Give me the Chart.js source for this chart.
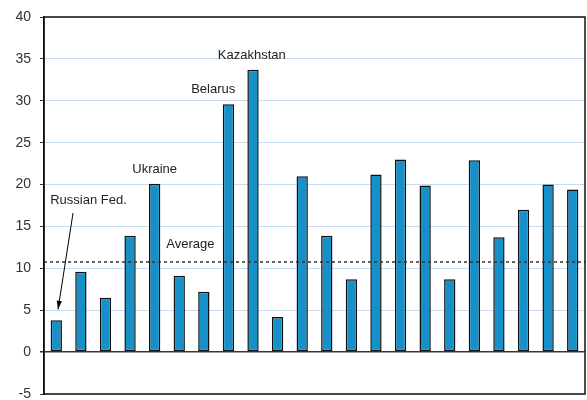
<!DOCTYPE html>
<html>
<head>
<meta charset="utf-8">
<script src="https://cdn.jsdelivr.net/npm/chart.js@4"></script>
<style>
  html, body { margin: 0; padding: 0; background: #fff; overflow: hidden; }
  canvas { display: block; }
</style>
</head>
<body>
<canvas id="myChart" width="587" height="400"></canvas>
<script>
// one bar per country, only a few are named on the chart
const countries = ['Russian Fed.', 'c2', 'c3', 'c4', 'Ukraine', 'c6', 'c7', 'Belarus', 'Kazakhstan', 'c10', 'c11',
    'c12', 'c13', 'c14', 'c15', 'c16', 'c17', 'c18', 'c19', 'c20', 'c21', 'c22'];
const values = [3.8, 9.6, 6.5, 13.9, 20.1, 9.1, 7.2, 29.6, 33.7, 4.2, 21.0,
    13.9, 8.7, 21.2, 23.0, 19.9, 8.7, 22.9, 13.7, 17.0, 20.0, 19.4];
const average = 10.75;
const yTicks = [-5, 0, 5, 10, 15, 20, 25, 30, 35, 40];

// text notes: [text, x (category index), y (value)]
const notes = [
    ['Russian Fed.', 1.31, 18.1],
    ['Ukraine', 4, 21.8],
    ['Belarus', 6.38, 31.3],
    ['Kazakhstan', 7.95, 35.4],
    ['Average', 5.45, 12.8]
];

const extras = {
    id: 'extras',
    afterDatasetsDraw(chart) {
        const c = chart.ctx;
        const a = chart.chartArea;
        const x = chart.scales.x;
        const y = chart.scales.y;
        c.save();
        // average line
        c.strokeStyle = '#333';
        c.lineWidth = 1.5;
        c.setLineDash([3, 3]);
        c.beginPath();
        c.moveTo(a.left, y.getPixelForValue(average));
        c.lineTo(a.right, y.getPixelForValue(average));
        c.stroke();
        c.setLineDash([]);
        // notes
        c.fillStyle = '#222';
        c.font = '13px "Liberation Sans", Arial, sans-serif';
        c.textAlign = 'center';
        c.textBaseline = 'middle';
        notes.forEach(n => c.fillText(n[0], x.getPixelForValue(n[1]), y.getPixelForValue(n[2])));
        // arrow to first bar
        const x1 = x.getPixelForValue(0.68), y1 = y.getPixelForValue(16.6);
        const x2 = x.getPixelForValue(0.07), y2 = y.getPixelForValue(5.1);
        c.strokeStyle = '#000';
        c.lineWidth = 1;
        c.beginPath();
        c.moveTo(x1, y1);
        c.lineTo(x2, y2);
        c.stroke();
        const ang = Math.atan2(y2 - y1, x2 - x1);
        c.fillStyle = '#000';
        c.beginPath();
        c.moveTo(x2, y2);
        c.lineTo(x2 - 9 * Math.cos(ang - 0.3), y2 - 9 * Math.sin(ang - 0.3));
        c.lineTo(x2 - 9 * Math.cos(ang + 0.3), y2 - 9 * Math.sin(ang + 0.3));
        c.closePath();
        c.fill();
        // frame
        c.strokeStyle = '#111';
        c.lineWidth = 1.5;
        c.strokeRect(a.left, a.top, a.right - a.left, a.bottom - a.top);
        c.restore();
    }
};

const ctx = document.getElementById('myChart').getContext('2d');
const myChart = new Chart(ctx, {
    type: 'bar',
    data: {
        labels: countries,
        datasets: [{
            data: values,
            backgroundColor: '#1590C8',
            borderColor: '#111',
            borderWidth: 1.5,
            borderSkipped: false,
            categoryPercentage: 1,
            barPercentage: 0.46
        }]
    },
    options: {
        responsive: false,
        animation: false,
        layout: { padding: { top: 17, right: 2, bottom: 6, left: 0 } },
        plugins: { legend: { display: false }, tooltip: { enabled: false } },
        scales: {
            x: { display: false },
            y: {
                min: -5,
                max: 40,
                afterFit(scale) {
                    scale.width = 44;
                    scale.paddingTop = 0;
                    scale.paddingBottom = 0;
                },
                afterBuildTicks(scale) { scale.ticks = yTicks.map(v => ({ value: v })); },
                ticks: {
                    padding: 9,
                    color: '#333',
                    font: { family: '"Liberation Sans", Arial, sans-serif', size: 14 }
                },
                grid: {
                    color: c => c.tick && c.tick.value === 0 ? '#2B3A44' : '#CADDF0',
                    lineWidth: c => c.tick && c.tick.value === 0 ? 1.5 : 1,
                    tickColor: '#333',
                    tickLength: 4
                },
                border: { color: '#111', width: 1.5 }
            }
        }
    },
    plugins: [extras]
});
</script>
</body>
</html>
